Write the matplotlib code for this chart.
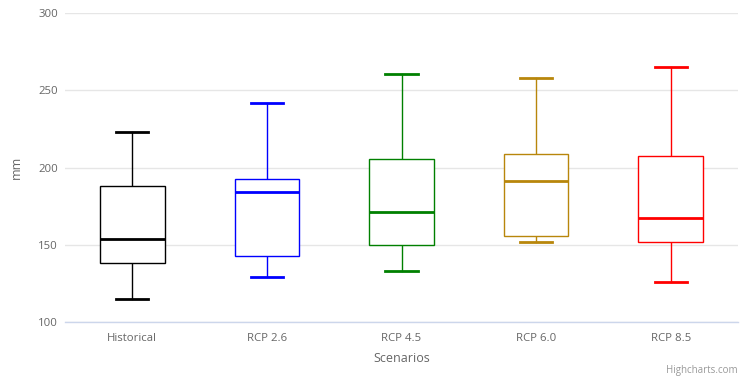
import matplotlib
matplotlib.use("Agg")
import matplotlib.pyplot as plt

plt.rcParams['font.family'] = ['Open Sans', 'DejaVu Sans']

# Data
scenarios = ["Historical", "RCP 2.6", "RCP 4.5", "RCP 6.0", "RCP 8.5"]
low = [115, 129, 133, 152, 126]
q1 = [138, 143, 150, 155.5, 152]
median = [154, 184, 171.5, 191, 167.5]
q3 = [188, 192.5, 205.5, 209, 207.5]
high = [223, 241.5, 260.5, 258, 265]
colors = ["#000000", "#0000ff", "#008000", "#b8860b", "#ff0000"]

stats = []
for i, name in enumerate(scenarios):
    stats.append(dict(label=name, whislo=low[i], q1=q1[i], med=median[i],
                      q3=q3[i], whishi=high[i]))

fig = plt.figure(figsize=(7.47, 3.8), dpi=100)
ax = fig.add_axes([65 / 747, 1 - 322 / 380, 673 / 747, 309 / 380])

positions = list(range(len(scenarios)))
art = ax.bxp(stats, positions=positions, widths=0.48, showfliers=False,
             patch_artist=True, manage_ticks=False)

for i, c in enumerate(colors):
    box = art['boxes'][i]
    box.set_facecolor('white')
    box.set_edgecolor(c)
    box.set_linewidth(1.0)
    box.set_zorder(3)
    art['medians'][i].set_color(c)
    art['medians'][i].set_linewidth(2.0)
    art['medians'][i].set_zorder(4)
    for w in art['whiskers'][2 * i:2 * i + 2]:
        w.set_color(c)
        w.set_linewidth(1.0)
    for cap in art['caps'][2 * i:2 * i + 2]:
        cap.set_color(c)
        cap.set_linewidth(2.0)
        xd = cap.get_xdata()
        mid = (xd[0] + xd[1]) / 2
        cap.set_xdata([mid - 0.12, mid + 0.12])

ax.set_xlim(-0.5, len(scenarios) - 0.5)
ax.set_ylim(100, 300)
ax.set_yticks([100, 150, 200, 250, 300])
ax.set_xticks(positions)
ax.set_xticklabels(scenarios)

ax.grid(axis='y', color='#e6e6e6', linewidth=1)
ax.set_axisbelow(True)
for s in ['top', 'right', 'left']:
    ax.spines[s].set_visible(False)
ax.spines['bottom'].set_color('#ccd6eb')
ax.spines['bottom'].set_linewidth(1)

ax.tick_params(axis='both', length=0, colors='#666666', labelsize=8.2)
ax.tick_params(axis='y', pad=5)
ax.tick_params(axis='x', pad=8)

ax.set_xlabel("Scenarios", color='#666666', fontsize=9, labelpad=6)
ax.set_ylabel("mm", color='#666666', fontsize=9, labelpad=11)

fig.text(738 / 747, 1 - 373 / 380, "Highcharts.com", ha='right', va='baseline',
         color='#999999', fontsize=7)

fig.savefig("out.png", dpi=100)
